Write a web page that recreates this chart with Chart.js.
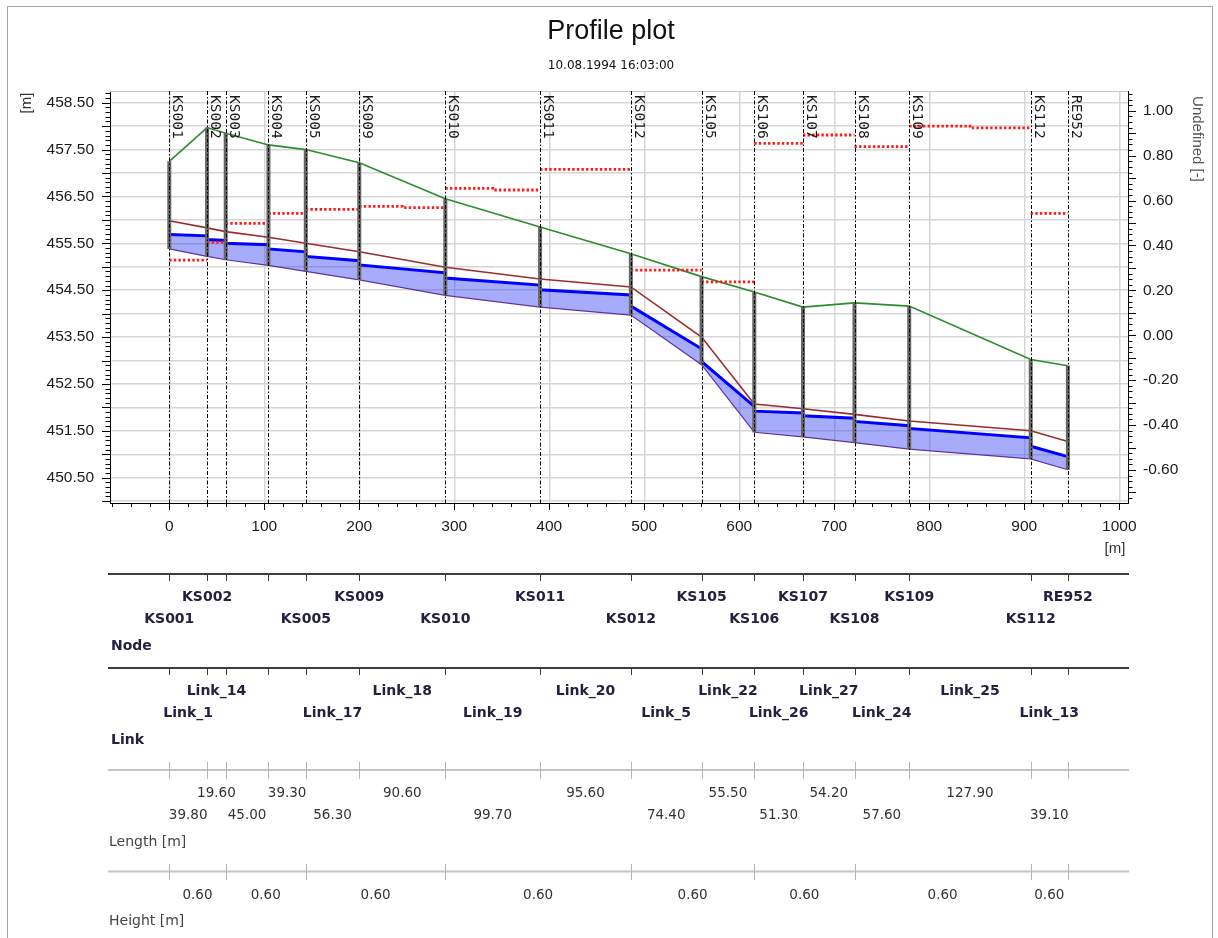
<!DOCTYPE html>
<html>
<head>
<meta charset="utf-8">
<script src="https://cdn.jsdelivr.net/npm/chart.js@4.4.1/dist/chart.umd.min.js"></script>
<style>
  html, body { margin:0; padding:0; background:#fff; }
  #wrap { position:relative; width:1218px; height:938px; overflow:hidden; }
  #frame { position:absolute; left:7px; top:6px; width:1206px; height:960px; border:1px solid #a4a4b2; box-sizing:border-box; }
  #chart { position:absolute; left:0; top:0; width:1218px; height:938px; }
</style>
</head>
<body>
<div id="wrap"><div id="frame"></div><canvas id="chart" width="1218" height="938"></canvas></div>
<script>
// nodes along the profile
const nodeNames = ['KS001','KS002','KS003','KS004','KS005','KS009','KS010','KS011','KS012','KS105','KS106','KS107','KS108','KS109','KS112','RE952'];
const stations = [0, 39.8, 59.4, 104.4, 143.7, 200.0, 290.6, 390.3, 485.9, 560.3, 615.8, 667.1, 721.3, 778.9, 906.8, 945.9];
const groundLevel = [457.25, 457.97, 457.85, 457.60, 457.50, 457.22, 456.45, 455.85, 455.28, 454.79, 454.46, 454.14, 454.23, 454.16, 453.02, 452.89];
const invertLevel = [455.38, 455.22, 455.15, 455.03, 454.90, 454.72, 454.39, 454.14, 453.97, 452.91, 451.47, 451.37, 451.25, 451.11, 450.90, 450.67];
const crownLevel  = [455.98, 455.83, 455.75, 455.63, 455.50, 455.32, 454.99, 454.74, 454.57, 453.50, 452.07, 451.97, 451.85, 451.71, 451.50, 451.27];
const tableHiddenNodes = ['KS003','KS004'];

// links between nodes
const linkNames = ['Link_1','Link_14',null,null,'Link_17','Link_18','Link_19','Link_20','Link_5','Link_22','Link_26','Link_27','Link_24','Link_25','Link_13'];
const linkLengths = [39.8, 19.6, 45.0, 39.3, 56.3, 90.6, 99.7, 95.6, 74.4, 55.5, 51.3, 54.2, 57.6, 127.9, 39.1];
const waterStart = [455.69, 455.58, 455.50, 455.38, 455.22, 455.04, 454.76, 454.51, 454.16, 452.98, 451.92, 451.82, 451.70, 451.55, 451.17];
const waterEnd   = [455.66, 455.56, 455.47, 455.32, 455.13, 454.87, 454.61, 454.40, 453.25, 452.02, 451.88, 451.77, 451.61, 451.35, 450.95];
const undefStart = [0.335, 0.414, 0.498, 0.543, 0.561, 0.574, 0.654, 0.739, 0.290, 0.238, 0.855, 0.892, 0.840, 0.932, 0.543];
const undefEnd   = [0.335, 0.414, 0.498, 0.543, 0.561, 0.569, 0.647, 0.739, 0.290, 0.238, 0.855, 0.892, 0.840, 0.924, 0.543];

// height table groups
const heightBreaks = [0, 59.4, 143.7, 290.6, 485.9, 615.8, 721.3, 906.8, 945.9];
const heightValues = [0.60, 0.60, 0.60, 0.60, 0.60, 0.60, 0.60, 0.60];

const X_MIN = -62.4, X_MAX = 1009.2, Y_MIN = 449.96, Y_MAX = 458.75, Y2_MIN = -0.747, Y2_MAX = 1.088;

function seq(from, to, step){
  const n = Math.round((to - from) / step);
  return Array.from({length:n + 1}, (_, i) => +(from + i * step).toFixed(4));
}
const nodePts = arr => stations.map((s, i) => ({x:s, y:arr[i]}));

const waterPts = [];
linkLengths.forEach((_, i) => {
  waterPts.push({x:stations[i], y:waterStart[i]}, {x:stations[i+1], y:waterEnd[i]});
});
const undefPts = [];
linkLengths.forEach((_, i) => {
  const a = stations[i], b = stations[i+1], m = (a + b) / 2;
  undefPts.push({x:a, y:undefStart[i]}, {x:m, y:undefStart[i]}, {x:m, y:undefEnd[i]}, {x:b, y:undefEnd[i]}, {x:b, y:null});
});
const manholePts = [];
stations.forEach((s, i) => manholePts.push({x:s, y:invertLevel[i]}, {x:s, y:groundLevel[i]}, {x:s, y:null}));

const TICK_FONT = {family:'Liberation Sans', size:15.5};

const profileExtras = {
  id:'profileExtras',
  afterDatasetsDraw(chart){
    const {ctx, chartArea:a, scales:{x}} = chart;
    ctx.save();
    // top border of plot
    ctx.strokeStyle = '#c8c8c8'; ctx.lineWidth = 1;
    ctx.beginPath(); ctx.moveTo(a.left, Math.round(a.top) + 0.5); ctx.lineTo(a.right, Math.round(a.top) + 0.5); ctx.stroke();
    // node lines
    ctx.strokeStyle = '#000'; ctx.lineWidth = 1; ctx.setLineDash([4, 2, 1.5, 2]);
    stations.forEach(s => {
      const p = Math.round(x.getPixelForValue(s)) + 0.5;
      ctx.beginPath(); ctx.moveTo(p, a.top); ctx.lineTo(p, a.bottom); ctx.stroke();
    });
    ctx.setLineDash([]);
    // rotated node names
    ctx.fillStyle = '#1a1a1a'; ctx.font = '14.5px "DejaVu Sans Mono"';
    ctx.textAlign = 'left'; ctx.textBaseline = 'alphabetic';
    stations.forEach((s, i) => {
      ctx.save();
      ctx.translate(x.getPixelForValue(s) + 4, a.top + 4);
      ctx.rotate(Math.PI / 2);
      ctx.fillText(nodeNames[i], 0, 0);
      ctx.restore();
    });
    ctx.restore();
  },
  afterDraw(chart){
    const {ctx, chartArea:a, scales:{x, y, y2}} = chart;
    const px = v => x.getPixelForValue(v);
    ctx.save();
    // axis tick marks
    ctx.strokeStyle = '#000'; ctx.lineWidth = 1;
    ctx.beginPath();
    seq(450.0, 458.7, 0.1).forEach(v => {
      const p = Math.round(y.getPixelForValue(v)) + 0.5;
      const len = Math.abs(v * 2 - Math.round(v * 2)) < 1e-6 ? 8 : 4.5;
      ctx.moveTo(a.left - len, p); ctx.lineTo(a.left, p);
    });
    seq(-0.725, 1.075, 0.025).forEach(v => {
      const p = Math.round(y2.getPixelForValue(v)) + 0.5;
      const len = Math.abs(v * 10 - Math.round(v * 10)) < 1e-6 ? 8 : 4.5;
      ctx.moveTo(a.right, p); ctx.lineTo(a.right + len, p);
    });
    seq(-60, 1000, 20).forEach(v => {
      const p = Math.round(px(v)) + 0.5;
      const len = v % 100 === 0 ? 7 : 4;
      ctx.moveTo(p, a.bottom); ctx.lineTo(p, a.bottom + len);
    });
    ctx.stroke();

    // titles
    ctx.fillStyle = '#111';
    ctx.textAlign = 'center'; ctx.textBaseline = 'alphabetic';
    ctx.font = '27px "Liberation Sans"';
    ctx.fillText('Profile plot', 611, 39);
    ctx.font = '12px "DejaVu Sans"';
    ctx.fillText('10.08.1994 16:03:00', 611, 69);

    // axis titles
    ctx.fillStyle = '#333'; ctx.textBaseline = 'middle';
    ctx.font = '15px "Liberation Sans"';
    ctx.save(); ctx.translate(27, 103); ctx.rotate(-Math.PI / 2); ctx.fillText('[m]', 0, 0); ctx.restore();
    ctx.fillStyle = '#555';
    ctx.save(); ctx.translate(1197, 139); ctx.rotate(Math.PI / 2); ctx.fillText('Undefined [-]', 0, 0); ctx.restore();
    ctx.fillStyle = '#333';
    ctx.fillText('[m]', 1115, 549);

    // table below the profile
    const L = a.left - 2, R = a.right + 1;
    const rowLine = (yy, color, w) => {
      ctx.strokeStyle = color; ctx.lineWidth = w;
      ctx.beginPath(); ctx.moveTo(L, yy); ctx.lineTo(R, yy); ctx.stroke();
    };
    const rowTicks = (vals, y0, y1, color) => {
      ctx.strokeStyle = color; ctx.lineWidth = 1; ctx.beginPath();
      vals.forEach(v => { const p = Math.round(px(v)) + 0.5; ctx.moveTo(p, y0); ctx.lineTo(p, y1); });
      ctx.stroke();
    };

    // Node row
    rowLine(574, '#3c3c3c', 2);
    rowTicks(stations, 575, 581, '#3c3c3c');
    ctx.fillStyle = '#22223e'; ctx.font = 'bold 14px "DejaVu Sans"'; ctx.textAlign = 'center';
    nodeNames.forEach((n, i) => {
      if (tableHiddenNodes.includes(n)) return;
      ctx.fillText(n, px(stations[i]), i % 2 ? 597 : 619.5);
    });
    ctx.textAlign = 'left';
    ctx.fillText('Node', 111, 646);

    // Link row
    rowLine(668, '#3c3c3c', 2);
    rowTicks(stations, 669, 675, '#3c3c3c');
    ctx.textAlign = 'center';
    linkNames.forEach((n, i) => {
      if (!n) return;
      ctx.fillText(n, px((stations[i] + stations[i+1]) / 2), i % 2 ? 691.5 : 713.5);
    });
    ctx.textAlign = 'left';
    ctx.fillText('Link', 111, 740);

    // Length row
    rowLine(770, '#c4c4c4', 2);
    rowTicks(stations, 762, 779, '#b4b4b4');
    ctx.fillStyle = '#333'; ctx.font = '13.5px "DejaVu Sans"'; ctx.textAlign = 'center';
    linkLengths.forEach((v, i) => {
      ctx.fillText(v.toFixed(2), px((stations[i] + stations[i+1]) / 2), i % 2 ? 793.5 : 815);
    });
    ctx.fillStyle = '#444'; ctx.font = '14px "DejaVu Sans"'; ctx.textAlign = 'left';
    ctx.fillText('Length [m]', 109, 842);

    // Height row
    rowLine(871.5, '#c4c4c4', 2);
    rowTicks(heightBreaks, 864, 880, '#b4b4b4');
    ctx.fillStyle = '#333'; ctx.font = '13.5px "DejaVu Sans"'; ctx.textAlign = 'center';
    heightValues.forEach((v, i) => {
      ctx.fillText(v.toFixed(2), px((heightBreaks[i] + heightBreaks[i+1]) / 2), 895);
    });
    ctx.fillStyle = '#444'; ctx.font = '14px "DejaVu Sans"'; ctx.textAlign = 'left';
    ctx.fillText('Height [m]', 109, 921.5);
    ctx.restore();
  }
};

new Chart(document.getElementById('chart'), {
  type:'line',
  data:{
    datasets:[
      { label:'Manholes', data:manholePts, borderColor:'#666666', borderWidth:4, borderCapStyle:'butt', pointRadius:0, spanGaps:false },
      { label:'Undefined', data:undefPts, yAxisID:'y2', borderColor:'#ff1a1a', borderWidth:2.8, borderDash:[2.4, 2.2], pointRadius:0, spanGaps:false },
      { label:'Ground level', data:nodePts(groundLevel), borderColor:'#2b8c2b', borderWidth:1.6, pointRadius:0 },
      { label:'Pipe crown', data:nodePts(crownLevel), borderColor:'#9e2b2b', borderWidth:1.6, pointRadius:0 },
      { label:'Water level', data:waterPts, borderColor:'#0000ff', borderWidth:3, pointRadius:0, fill:5, backgroundColor:'rgba(60,70,245,0.45)' },
      { label:'Pipe invert', data:nodePts(invertLevel), borderColor:'#6b2d86', borderWidth:1.2, pointRadius:0 }
    ]
  },
  options:{
    responsive:false,
    animation:false,
    events:[],
    layout:{ padding:{ top:91, left:25, right:30, bottom:375 } },
    plugins:{ legend:{display:false}, tooltip:{enabled:false}, title:{display:false} },
    scales:{
      x:{
        type:'linear', min:X_MIN, max:X_MAX,
        afterBuildTicks: ax => { ax.ticks = seq(-60, 1000, 20).map(v => ({value:v})); },
        afterFit: ax => { ax.height = 60; },
        ticks:{ autoSkip:false, maxRotation:0, padding:14, font:TICK_FONT, color:'#1a1a1a',
                callback: v => v % 100 === 0 ? String(v) : '' },
        grid:{ drawTicks:false, lineWidth:1.5,
               color: c => (c.tick && c.tick.value % 100 === 0) ? '#d6d6d6' : 'rgba(0,0,0,0)' },
        border:{ display:true, color:'#000', width:1 }
      },
      y:{
        position:'left', min:Y_MIN, max:Y_MAX,
        afterBuildTicks: ax => { ax.ticks = seq(450.0, 458.5, 0.5).map(v => ({value:v})); },
        afterFit: ax => { ax.width = 85; },
        ticks:{ padding:16, font:TICK_FONT, color:'#1a1a1a',
                callback: v => Math.round(v * 2) % 2 === 1 ? v.toFixed(2) : '' },
        grid:{ drawTicks:false, color:'#d6d6d6', lineWidth:1.5 },
        border:{ display:true, color:'#000', width:1 }
      },
      y2:{
        position:'right', min:Y2_MIN, max:Y2_MAX,
        afterBuildTicks: ax => { ax.ticks = seq(-0.6, 1.0, 0.2).map(v => ({value:v})); },
        afterFit: ax => { ax.width = 60; },
        ticks:{ padding:15, font:TICK_FONT, color:'#1a1a1a', callback: v => v.toFixed(2) },
        grid:{ drawOnChartArea:false, drawTicks:false },
        border:{ display:true, color:'#000', width:1 }
      }
    }
  },
  plugins:[profileExtras]
});
</script>
</body>
</html>
